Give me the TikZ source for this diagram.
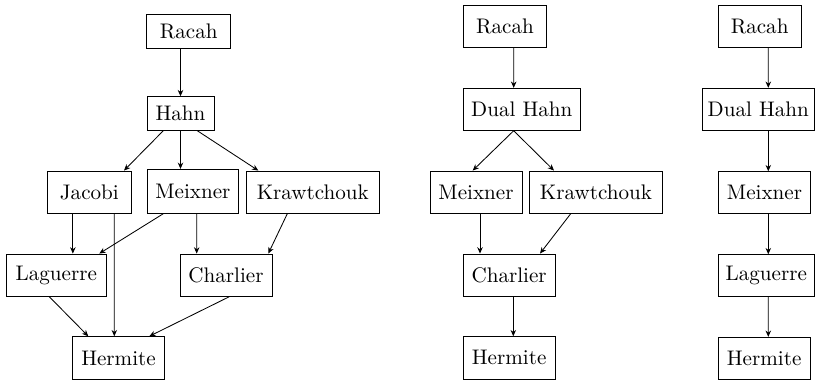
\documentclass[tikz,border=0pt]{standalone}
\usetikzlibrary{arrows.meta}
\def\pxu{0.474pt}
\tikzset{
  box/.style={draw, line width=0.4pt, inner sep=0pt, align=center},
  arr/.style={-{Stealth[length=3pt,width=2.6pt]}, line width=0.4pt},
}
\begin{document}
\begin{tikzpicture}[x=\pxu, y=-\pxu]
\useasboundingbox (0,0) rectangle (815,382);
% ---- column 1
\node[box, minimum width=84*\pxu,   minimum height=34.3*\pxu] (R1) at (188.7,31.15) {Racah};
\node[box, minimum width=67*\pxu,   minimum height=33.6*\pxu] (H1) at (180.5,113.5) {Hahn};
\node[box, minimum width=83.3*\pxu, minimum height=42.3*\pxu] (J)  at (89.35,192.15) {Jacobi};
\node[box, minimum width=91.7*\pxu, minimum height=44*\pxu]   (M1) at (192.85,191.3) {Meixner};
\node[box, minimum width=133*\pxu,  minimum height=42.3*\pxu] (K1) at (312.8,192.15) {Krawtchouk};
\node[box, minimum width=100.7*\pxu,minimum height=42.3*\pxu] (L1) at (56.35,275.15) {Laguerre};
\node[box, minimum width=92*\pxu,   minimum height=42.3*\pxu] (C1) at (226,275.15) {Charlier};
\node[box, minimum width=91.6*\pxu, minimum height=42.6*\pxu] (He1) at (118.5,358) {Hermite};
% ---- column 2
\node[box, minimum width=83.4*\pxu, minimum height=42.4*\pxu] (R2) at (505,26.5) {Racah};
\node[box, minimum width=117*\pxu,  minimum height=42*\pxu]   (D2) at (521.8,109.3) {Dual Hahn};
\node[box, minimum width=92*\pxu,   minimum height=42.3*\pxu] (M2) at (476,192.15) {Meixner};
\node[box, minimum width=133.4*\pxu,minimum height=42.3*\pxu] (K2) at (596,192.15) {Krawtchouk};
\node[box, minimum width=91.7*\pxu, minimum height=42.3*\pxu] (C2) at (509.15,275.15) {Charlier};
\node[box, minimum width=91.7*\pxu, minimum height=42.3*\pxu] (He2) at (509.15,357.85) {Hermite};
% ---- column 3
\node[box, minimum width=82.7*\pxu, minimum height=42*\pxu]   (R3) at (759.65,26.3) {Racah};
\node[box, minimum width=112*\pxu,  minimum height=42*\pxu]   (D3) at (758.3,109.3) {Dual Hahn};
\node[box, minimum width=92.4*\pxu, minimum height=41.6*\pxu] (M3) at (764.5,192.5) {Meixner};
\node[box, minimum width=96*\pxu,   minimum height=41.3*\pxu] (L3) at (766.3,275.35) {Laguerre};
\node[box, minimum width=91.7*\pxu, minimum height=41.7*\pxu] (He3) at (764.15,358.15) {Hermite};
% ---- arrows column 1
\draw[arr] ([xshift=-8.2*\pxu]R1.south) -- (H1.north);
\draw[arr] ([xshift=-17.2*\pxu]H1.south) -- ([xshift=34.65*\pxu]J.north);
\draw[arr] (H1.south) -- ([xshift=-12.35*\pxu]M1.north);
\draw[arr] ([xshift=16.8*\pxu]H1.south) -- ([xshift=-54.5*\pxu]K1.north);
\draw[arr] ([xshift=-16.5*\pxu]J.south) -- ([xshift=16.5*\pxu]L1.north);
\draw[arr] ([xshift=24.95*\pxu]J.south) -- ([xshift=-4.2*\pxu]He1.north);
\draw[arr] ([xshift=-29.55*\pxu]M1.south) -- ([xshift=42.95*\pxu]L1.north);
\draw[arr] ([xshift=3.85*\pxu]M1.south) -- ([xshift=-29.3*\pxu]C1.north);
\draw[arr] ([xshift=-25.5*\pxu]K1.south) -- ([xshift=42.3*\pxu]C1.north);
\draw[arr] ([xshift=-7.05*\pxu]L1.south) -- ([xshift=-30.2*\pxu]He1.north);
\draw[arr] ([xshift=3.3*\pxu]C1.south) -- ([xshift=30.8*\pxu]He1.north);
% ---- arrows column 2
\draw[arr] ([xshift=8.7*\pxu]R2.south) -- ([xshift=-8.1*\pxu]D2.north);
\draw[arr] ([xshift=-8.1*\pxu]D2.south) -- ([xshift=-3.3*\pxu]M2.north);
\draw[arr] ([xshift=-8.1*\pxu]D2.south) -- ([xshift=-42*\pxu]K2.north);
\draw[arr] ([xshift=4*\pxu]M2.south) -- ([xshift=-29.15*\pxu]C2.north);
\draw[arr] ([xshift=-25.3*\pxu]K2.south) -- ([xshift=30.85*\pxu]C2.north);
\draw[arr] ([xshift=4.15*\pxu]C2.south) -- ([xshift=4.15*\pxu]He2.north);
% ---- arrows column 3
\draw[arr] ([xshift=8.65*\pxu]R3.south) -- ([xshift=10*\pxu]D3.north);
\draw[arr] ([xshift=10*\pxu]D3.south) -- ([xshift=3.8*\pxu]M3.north);
\draw[arr] ([xshift=3.8*\pxu]M3.south) -- ([xshift=2*\pxu]L3.north);
\draw[arr] ([xshift=2*\pxu]L3.south) -- ([xshift=4.15*\pxu]He3.north);
\end{tikzpicture}
\end{document}
